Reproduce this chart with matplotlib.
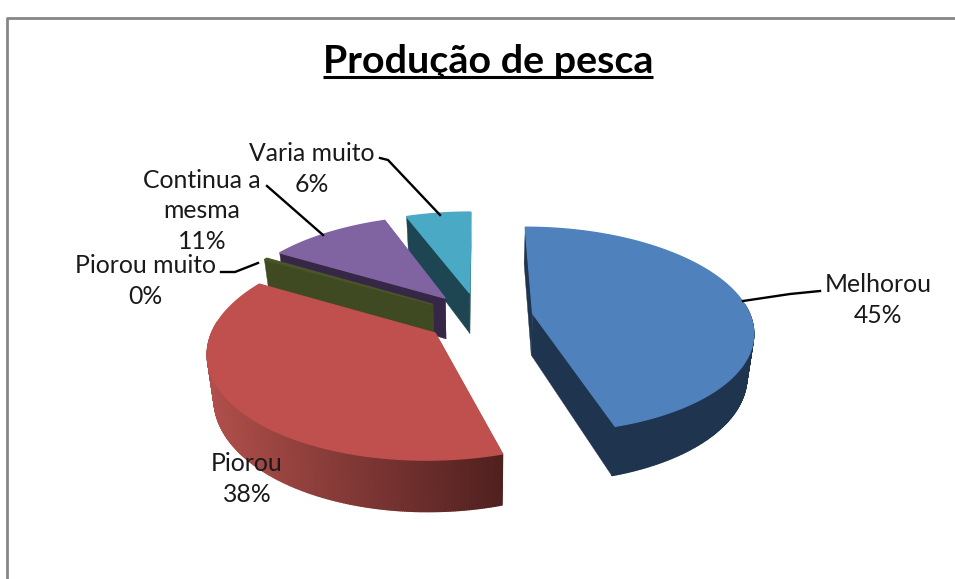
import numpy as np
import matplotlib
matplotlib.use('Agg')
import matplotlib.pyplot as plt

plt.rcParams['font.family'] = ['Lato', 'DejaVu Sans']

categories = ['Melhorou', 'Piorou', 'Piorou muito', 'Continua a\nmesma', 'Varia muito']
values = [45.4, 37.9, 0.3, 10.7, 5.7]
percent_labels = ['45%', '38%', '0%', '11%', '6%']

top_colors = ['#4f81bd', '#c0504d', '#4a5628', '#8064a2', '#4aa9c5']
wall_colors = ['#1f344f', '#5a2422', '#3f4a22', '#362746', '#1d4552']

# pie geometry in screen pixels
cx, cy = 479, 317
rx, ry = 218, 101
persp = 0.16
depth = 42
explode = 0.25
base_shrink = 0.975


def project(x, y):
    w = 1 + persp * y
    return cx + rx * x / w, cy - ry * y / w


def project_base(x, y):
    w = 1 + persp * y
    return cx + base_shrink * rx * x / w, cy - ry * y / w + depth / w


def lerp_color(c0, c1, t):
    a = np.array(matplotlib.colors.to_rgb(c0))
    b = np.array(matplotlib.colors.to_rgb(c1))
    return a + (b - a) * t


def draw_slice(ax, start, end, top, wall, gradient=None):
    mid = np.radians((start + end) / 2)
    ox, oy = explode * np.sin(mid), explode * np.cos(mid)
    n = max(int((end - start) * 2), 3)
    theta = np.radians(np.linspace(start, end, n))
    rim_x = ox + np.sin(theta)
    rim_y = oy + np.cos(theta)

    # straight walls
    for i in (0, -1):
        p = [project(rim_x[i], rim_y[i]), project(ox, oy),
             project_base(ox, oy), project_base(rim_x[i], rim_y[i])]
        ax.fill(*zip(*p), color=wall, lw=0.3, zorder=2)

    # outer wall, one strip per step
    sx, sy = project(rim_x, rim_y)
    bx, by = project_base(rim_x, rim_y)
    for i in range(n - 1):
        if np.cos(theta[i]) > 0.1:
            continue  # back of the rim, hidden by the top face
        color = wall
        if gradient is not None:
            t = np.clip((sx[i] - 207) / (505 - 207), 0, 1)
            color = lerp_color(gradient[0], gradient[1], t)
        ax.fill([sx[i], sx[i + 1], bx[i + 1], bx[i]],
                [sy[i], sy[i + 1], by[i + 1], by[i]],
                color=color, lw=1.0, zorder=2)

    ax_, ay_ = project(ox, oy)
    ax.fill(np.r_[ax_, sx], np.r_[ay_, sy], color=top, lw=1.0, zorder=2)


fig = plt.figure(figsize=(9.55, 5.79), dpi=100)
ax = fig.add_axes([0, 0, 1, 1])
ax.set_xlim(0, 955)
ax.set_ylim(579, 0)
ax.axis('off')

# chart frame, only left and top show
ax.plot([7, 7, 955], [579, 18, 18], color='#868686', lw=2, zorder=1)

edges = np.r_[0, np.cumsum(values)] / np.sum(values) * 360

# back slices first, so the front ones cover them
for i in [4, 3, 2, 1, 0]:
    gradient = ('#b04f4b', '#4f201f') if i == 1 else None
    draw_slice(ax, edges[i], edges[i + 1], top_colors[i], wall_colors[i], gradient)

ax.text(488, 73, 'Produção de pesca', fontsize=28.4, fontweight='bold',
        ha='center', va='baseline', color='black')
ax.plot([323, 653], [77, 77], color='black', lw=2.2, solid_capstyle='butt')

label_pos = [(878, 300), (247, 479), (145, 281), (202, 211), (312, 169)]
for name, pct, (lx, ly) in zip(categories, percent_labels, label_pos):
    ax.text(lx, ly, name + '\n' + pct, fontsize=17.8, ha='center', va='center',
            linespacing=1.38, color='#1a1a1a', zorder=4)

leaders = [
    ([743, 790, 820], [301, 294, 291]),
    ([258, 235, 221], [263, 272, 272]),
    ([323, 267], [235, 186]),
    ([440, 388, 380], [215, 160, 158]),
]
for lx, ly in leaders:
    ax.plot(lx, ly, color='black', lw=1.7, zorder=3)

fig.savefig('out.png', dpi=100)
